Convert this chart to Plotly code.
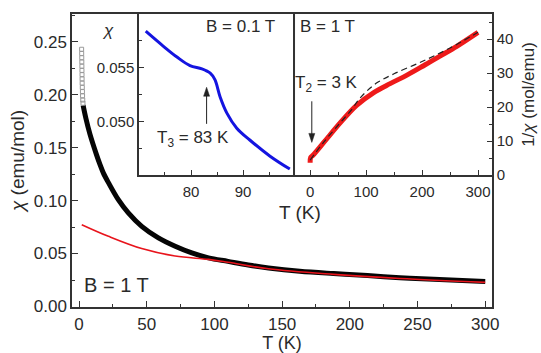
import plotly.graph_objects as go

# ---- main panel data (B = 1 T) ----
T_low = [1.9, 1.95, 2.0, 2.05, 2.1, 2.15, 2.2, 2.25, 2.3, 2.4, 2.5, 2.6, 2.75, 2.9]
chi_low = [0.243, 0.239, 0.235, 0.231, 0.227, 0.223, 0.219, 0.215, 0.211, 0.207, 0.203, 0.199, 0.195, 0.192]

T_main = [3.0, 5, 8, 13, 15.5, 18, 21.7, 29, 36.4, 46.3, 58.6, 71, 83.3, 95.6,
          110, 125, 140, 163, 188, 213, 237, 262, 300]
chi_main = [0.190, 0.178, 0.163, 0.143, 0.134, 0.126, 0.1170, 0.1009, 0.0884, 0.0757,
            0.0648, 0.0569, 0.0506, 0.0459, 0.0426, 0.0392, 0.0364, 0.0333, 0.0311,
            0.0292, 0.0272, 0.0256, 0.0236]

T_fit = [2, 21.7, 46.3, 71, 95.6, 110, 140, 188, 237, 300]
chi_fit = [0.0773, 0.0663, 0.0547, 0.0476, 0.0445, 0.0418, 0.0356, 0.0303, 0.0264, 0.0228]

# ---- inset 1 (B = 0.1 T) ----
T_in1 = [71.3, 74.7, 77.3, 79.8, 82.1, 83.7, 84.6, 85.6, 86.9, 88.8, 91.3, 95.2, 99.0]
chi_in1 = [0.0584, 0.0570, 0.0560, 0.0552, 0.0549, 0.0545, 0.0539, 0.0523, 0.0508,
           0.0494, 0.0483, 0.0468, 0.0456]

# ---- inset 2 (B = 1 T, 1/chi) ----
T_in2 = [0, 1, 5, 24, 54, 83, 113, 143, 173, 202, 232, 262, 300]
inv_in2 = [3.6, 5.2, 5.8, 9.5, 15.4, 20.5, 24.2, 26.9, 29.4, 32.1, 35.0, 37.9, 42.0]
T_dash = [0, 24, 54, 75, 85, 100, 120, 150, 200, 250, 300]
inv_dash = [4.4, 9.6, 15.4, 19.4, 21.8, 24.5, 27.2, 29.8, 33.4, 37.4, 42.0]

FONT = "Liberation Sans, Arial, sans-serif"
TXT = "#2a2a2a"
AX = "#333333"

fig = go.Figure()

# main traces
fig.add_trace(go.Scatter(x=T_main, y=chi_main, mode="lines", line=dict(color="#050505", width=5, shape="spline"),
                         xaxis="x", yaxis="y", showlegend=False))
fig.add_trace(go.Scatter(x=T_fit, y=chi_fit, mode="lines", line=dict(color="#e8141c", width=1.6, shape="spline"),
                         xaxis="x", yaxis="y", showlegend=False))
fig.add_trace(go.Scatter(x=T_low, y=chi_low, mode="markers",
                         marker=dict(symbol="square-open", size=4, color="#9a9a9a", line=dict(width=1)),
                         xaxis="x", yaxis="y", showlegend=False))

# inset 1
fig.add_trace(go.Scatter(x=T_in1, y=chi_in1, mode="lines", line=dict(color="#1414e0", width=3, shape="spline"),
                         xaxis="x2", yaxis="y2", showlegend=False))

# inset 2
fig.add_trace(go.Scatter(x=T_in2, y=inv_in2, mode="lines", line=dict(color="#ee1a1a", width=5, shape="spline"),
                         xaxis="x3", yaxis="y3", showlegend=False))
fig.add_trace(go.Scatter(x=T_dash, y=inv_dash, mode="lines", line=dict(color="#222222", width=1.2, dash="6px,4px", shape="spline"),
                         xaxis="x3", yaxis="y3", showlegend=False))

axcommon = dict(showline=True, linecolor=AX, linewidth=1.5, mirror=True, ticks="inside",
                tickcolor=AX, tickwidth=1.2, showgrid=False, zeroline=False, automargin=False,
                tickfont=dict(family=FONT, size=17, color=TXT))

fig.update_layout(
    width=541, height=353,
    margin=dict(l=72, r=49, t=14, b=46),
    paper_bgcolor="white", plot_bgcolor="white",
    xaxis=dict(axcommon, domain=[0, 1], range=[-5.2, 305], tickvals=[0, 50, 100, 150, 200, 250, 300],
               ticklen=6, ticklabelstandoff=1,
               minor=dict(ticks="inside", dtick=25, tick0=0, ticklen=3, tickcolor=AX),
               title=dict(text="T (K)", font=dict(family=FONT, size=18, color=TXT), standoff=4),
               anchor="y"),
    yaxis=dict(axcommon, domain=[0, 1], range=[-0.0005, 0.2763], tickvals=[0, 0.05, 0.10, 0.15, 0.20, 0.25],
               tickformat=".2f", ticklen=6,
               minor=dict(ticks="inside", dtick=0.025, tick0=0, ticklen=3, tickcolor=AX),
               title=dict(text="<i>χ</i> (emu/mol)", font=dict(family=FONT, size=19, color=TXT), standoff=4),
               anchor="x"),
    xaxis2=dict(axcommon, domain=[0.1595, 0.531], range=[70, 100], tickvals=[80, 90],
                ticklen=5, ticklabelstandoff=2, tickfont=dict(family=FONT, size=15, color=TXT),
                minor=dict(ticks="inside", dtick=5, tick0=0, ticklen=3, tickcolor=AX),
                anchor="y2"),
    yaxis2=dict(axcommon, domain=[0.4505, 1], range=[0.04505, 0.0600], tickvals=[0.050, 0.055],
                tickformat=".3f", ticklen=5, tickfont=dict(family=FONT, size=15, color=TXT),
                minor=dict(ticks="inside", dtick=0.0025, tick0=0, ticklen=3, tickcolor=AX),
                anchor="x2"),
    xaxis3=dict(axcommon, domain=[0.531, 1], range=[-27, 325], tickvals=[0, 100, 200, 300],
                ticklen=5, ticklabelstandoff=2, tickfont=dict(family=FONT, size=15, color=TXT),
                minor=dict(ticks="inside", dtick=50, tick0=0, ticklen=3, tickcolor=AX),
                anchor="y3"),
    yaxis3=dict(axcommon, domain=[0.4505, 1], range=[0, 47.4], tickvals=[0, 10, 20, 30, 40],
                side="right", ticklen=5, tickfont=dict(family=FONT, size=15, color=TXT),
                minor=dict(ticks="inside", dtick=5, tick0=0, ticklen=3, tickcolor=AX),
                title=dict(text="1/<i>χ</i> (mol/emu)", font=dict(family=FONT, size=17, color=TXT), standoff=10),
                anchor="x3"),
)

def lab(text, x, y, size=17):
    return dict(text=text, x=x, y=y, xref="paper", yref="paper", showarrow=False,
                xanchor="center", yanchor="middle", font=dict(family=FONT, size=size, color=TXT))

ann = [
    lab("B = 1 T", 0.107, 0.075, 20),
    lab("<i>χ</i>", 0.0857, 0.945),
    lab("B = 0.1 T", 0.40, 0.956),
    lab("T<sub>3</sub> = 83 K", 0.288, 0.575),
    lab("B = 1 T", 0.6095, 0.959),
    lab("T<sub>2</sub> = 3 K", 0.607, 0.76),
    lab("T (K)", 0.543, 0.322, 19),
]
fig.update_layout(annotations=ann)

# arrows: stems in data units, heads in pixels
shapes = [
    dict(type="line", xref="x2", yref="y2", x0=83, x1=83, y0=0.0498, y1=0.0526,
         line=dict(color="#222", width=1)),
    dict(type="path", xref="x2", yref="y2", xsizemode="pixel", ysizemode="pixel",
         xanchor=83, yanchor=0.0532, path="M0,0 L-3,-9 L3,-9 Z",
         fillcolor="#222", line=dict(color="#222", width=0.5)),
    dict(type="line", xref="x3", yref="y3", x0=3, x1=3, y0=21.7, y1=11.5,
         line=dict(color="#222", width=1)),
    dict(type="path", xref="x3", yref="y3", xsizemode="pixel", ysizemode="pixel",
         xanchor=3, yanchor=9.6, path="M0,0 L-3,9 L3,9 Z",
         fillcolor="#222", line=dict(color="#222", width=0.5)),
]
fig.update_layout(shapes=shapes)

fig.write_html("out.html")
